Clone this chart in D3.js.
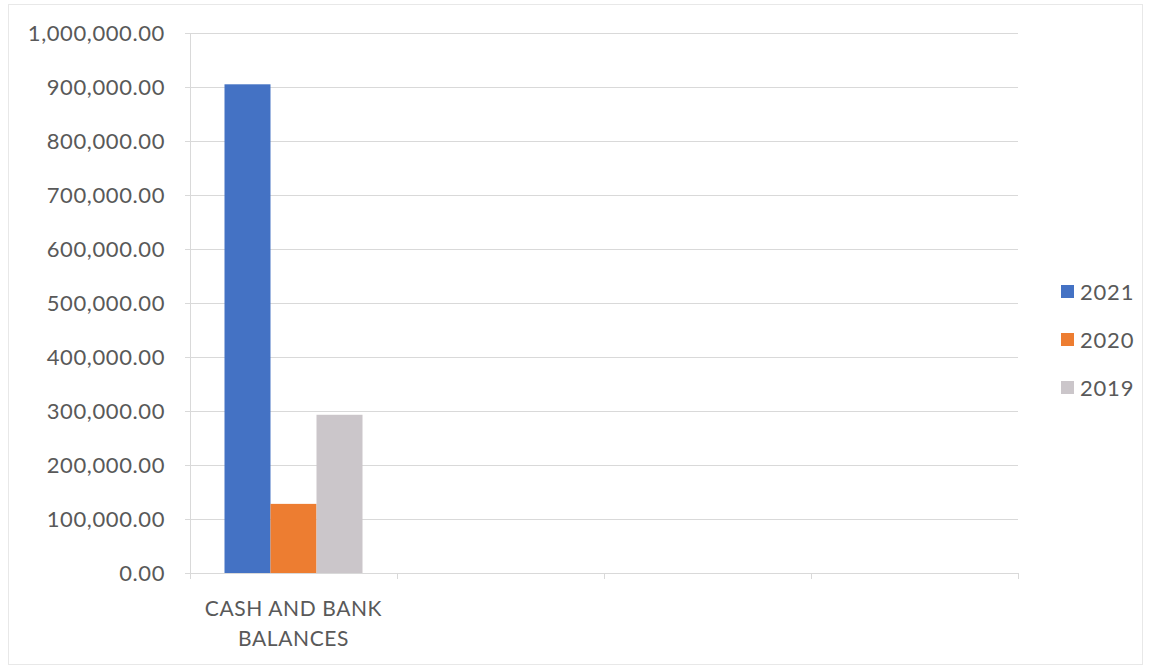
<!DOCTYPE html>
<html>
<head>
<meta charset="utf-8">
<script src="https://cdn.jsdelivr.net/npm/d3@7"></script>
<style>
  body { margin: 0; background: #fff; }
  svg text { font-family: Lato, "Open Sans", sans-serif; fill: #595959; }
</style>
</head>
<body>
<div id="chart"></div>
<script>
// chart data
var categories = ["CASH AND BANK BALANCES", "", "", ""];
var series = ["2021", "2020", "2019"];
var values2021 = [905000, null, null, null];
var values2020 = [128000, null, null, null];
var values2019 = [293000, null, null, null];
var yTicks = [0, 100000, 200000, 300000, 400000, 500000, 600000, 700000, 800000, 900000, 1000000];

var seriesVals = { "2021": values2021, "2020": values2020, "2019": values2019 };
var colors = { "2021": "#4472C4", "2020": "#ED7D31", "2019": "#CBC6CA" };

var canvasW = 1150, canvasH = 670;
var margin = {top: 33, right: 132, bottom: 97, left: 190};
var width = canvasW - margin.left - margin.right,
    height = canvasH - margin.top - margin.bottom;

var svg = d3.select("#chart").append("svg")
  .attr("width", canvasW)
  .attr("height", canvasH);

// outer chart border
svg.append("rect")
  .attr("x", 8.5).attr("y", 4.5)
  .attr("width", 1134).attr("height", 660)
  .attr("fill", "none")
  .attr("stroke", "#e8e8e8");

var g = svg.append("g").attr("transform", "translate(" + margin.left + "," + margin.top + ")");

var x = d3.scaleBand().domain(d3.range(categories.length)).range([0, width]).padding(0);
var x1 = d3.scaleBand().domain(series).range([0, x.bandwidth()]).paddingInner(0).paddingOuter(0.75);
var y = d3.scaleLinear().domain([0, 1000000]).range([height, 0]);

// gridlines
g.append("g")
  .selectAll("line")
  .data(yTicks.slice(1))
  .enter().append("line")
  .attr("x1", 0).attr("x2", width)
  .attr("y1", function(d){ return Math.round(y(d)) + 0.5; })
  .attr("y2", function(d){ return Math.round(y(d)) + 0.5; })
  .attr("stroke", "#d9d9d9");

// y axis
var yAxis = g.append("g")
  .call(d3.axisLeft(y).tickValues(yTicks).tickSize(5).tickPadding(20)
    .tickFormat(d3.format(",.2f")));
yAxis.select(".domain").attr("stroke", "#d9d9d9");
yAxis.selectAll(".tick line").attr("stroke", "#d9d9d9");
yAxis.selectAll("text")
  .style("font-size", "22px")
  .style("letter-spacing", "0.6px")
  .attr("fill", "#595959");

// bars
var groups = g.selectAll(".cat")
  .data(categories.map(function(c, i){ return i; }))
  .enter().append("g")
  .attr("class", "cat")
  .attr("transform", function(i){ return "translate(" + x(i) + ",0)"; });

groups.selectAll("rect")
  .data(function(i){
    return series.map(function(s){ return {s: s, v: seriesVals[s][i]}; })
      .filter(function(d){ return d.v != null; });
  })
  .enter().append("rect")
  .attr("x", function(d){ return x1(d.s); })
  .attr("width", x1.bandwidth())
  .attr("y", function(d){ return y(d.v); })
  .attr("height", function(d){ return height - y(d.v); })
  .attr("fill", function(d){ return colors[d.s]; });

// x axis with boundary ticks
var xAxisG = g.append("g").attr("transform", "translate(0," + height + ")");
xAxisG.append("line")
  .attr("x1", 0).attr("x2", width)
  .attr("y1", 0.5).attr("y2", 0.5)
  .attr("stroke", "#d9d9d9");
xAxisG.selectAll(".xtick")
  .data(d3.range(categories.length + 1))
  .enter().append("line")
  .attr("class", "xtick")
  .attr("x1", function(i){ return Math.round(i * x.step()) + 0.5; })
  .attr("x2", function(i){ return Math.round(i * x.step()) + 0.5; })
  .attr("y1", 0).attr("y2", 6)
  .attr("stroke", "#d9d9d9");

// category labels, wrapped into two lines
var labelLines = [["CASH AND BANK", "BALANCES"], [], [], []];
xAxisG.selectAll(".xlabel")
  .data(d3.range(categories.length))
  .enter().append("text")
  .attr("class", "xlabel")
  .attr("text-anchor", "middle")
  .style("font-size", "21px")
  .style("letter-spacing", "0.6px")
  .each(function(i){
    var t = d3.select(this);
    labelLines[i].forEach(function(line, k){
      t.append("tspan")
        .attr("x", x(i) + x.bandwidth() / 2)
        .attr("y", 43 + k * 30)
        .text(line);
    });
  });

// legend
var legend = svg.append("g").attr("transform", "translate(1061,292)");
var items = legend.selectAll(".item")
  .data(series)
  .enter().append("g")
  .attr("class", "item")
  .attr("transform", function(d, i){ return "translate(0," + (i * 48) + ")"; });
items.append("rect")
  .attr("x", 0).attr("y", -7)
  .attr("width", 13).attr("height", 13)
  .attr("fill", function(d){ return colors[d]; });
items.append("text")
  .attr("x", 19).attr("y", 0)
  .attr("dy", "0.35em")
  .style("font-size", "22px")
  .style("letter-spacing", "0.8px")
  .text(function(d){ return d; });
</script>
</body>
</html>
